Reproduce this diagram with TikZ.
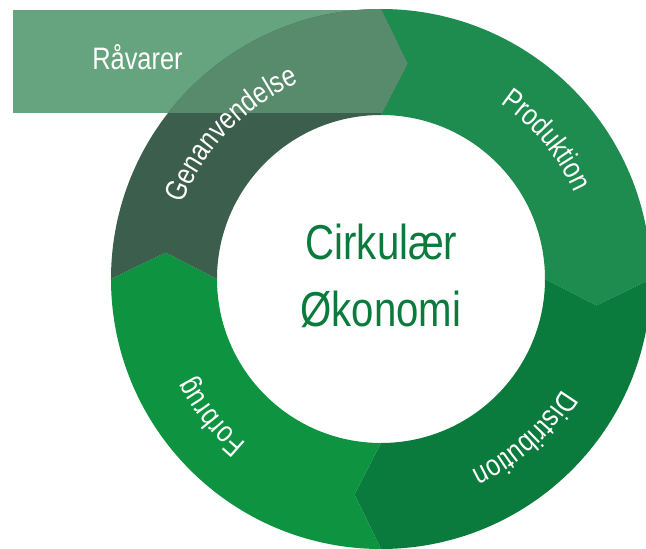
\documentclass[tikz,border=0pt]{standalone}
\usepackage{fontspec}
\newfontfamily\condfont[FakeStretch=0.82]{Liberation Sans}
\usetikzlibrary{decorations.text}
\definecolor{prodcol}{HTML}{1E8B4F}
\definecolor{distcol}{HTML}{0B7A3D}
\definecolor{forbcol}{HTML}{0E9441}
\definecolor{gencol}{HTML}{3C5E4C}
\definecolor{rawcol}{HTML}{66A47F}
\definecolor{overcol}{HTML}{588B6C}
\definecolor{titlecol}{HTML}{0B7A3D}
\tikzset{
  ringlabel/.style={decorate, decoration={text along path, text align=center,
    text color=white, text={|\condfont\fontsize{30}{30}\selectfont|#1}}},
  titletext/.style={text=titlecol, font=\condfont\fontsize{49}{49}\selectfont, inner sep=0pt, anchor=base},
}
\begin{document}
\begin{tikzpicture}[x=1pt,y=1pt]
\useasboundingbox (-381,-270) rectangle (265,279);
\clip (-381,-270) rectangle (265,279);
% raw materials band
\fill[rawcol] (-368,166) rectangle (0,269);
% ring segments
\fill[prodcol] (90:270pt) arc[start angle=90,end angle=0,radius=270pt] -- (-7:217pt) -- (0:164pt) arc[start angle=0,end angle=90,radius=164pt] -- (83:217pt) -- cycle;
\fill[distcol] (0:270pt) arc[start angle=0,end angle=-90,radius=270pt] -- (-97:217pt) -- (-90:164pt) arc[start angle=-90,end angle=0,radius=164pt] -- (-7:217pt) -- cycle;
\fill[forbcol] (-90:270pt) arc[start angle=-90,end angle=-180,radius=270pt] -- (-187:217pt) -- (-180:164pt) arc[start angle=-180,end angle=-90,radius=164pt] -- (-97:217pt) -- cycle;
\fill[gencol] (180:270pt) arc[start angle=180,end angle=90,radius=270pt] -- (83:217pt) -- (90:164pt) arc[start angle=90,end angle=180,radius=164pt] -- (173:217pt) -- cycle;
% overlap of band and recycling segment
\begin{scope}
\clip (-368,166) rectangle (40,269);
\fill[overcol] (180:270pt) arc[start angle=180,end angle=90,radius=270pt] -- (83:217pt) -- (90:164pt) arc[start angle=90,end angle=180,radius=164pt] -- (173:217pt) -- cycle;
\end{scope}
% labels
\node[text=white, font=\condfont\fontsize{31}{31}\selectfont, inner sep=0pt, anchor=base] (raw) at (-243.5,209) {Råvarer};
\path[ringlabel=Produktion] (85:212pt) arc[start angle=85,end angle=-5,radius=212pt];
\path[ringlabel=Distribution] (-3:212pt) arc[start angle=-3,end angle=-93,radius=212pt];
\path[ringlabel=Forbrug] (-96:212pt) arc[start angle=-96,end angle=-186,radius=212pt];
\path[ringlabel=Genanvendelse] (181:212pt) arc[start angle=181,end angle=91,radius=212pt];
\node[titletext] (t1) at (0.5,19) {Cirkulær};
\node[titletext] (t2) at (0,-48) {Økonomi};
\end{tikzpicture}
\end{document}
